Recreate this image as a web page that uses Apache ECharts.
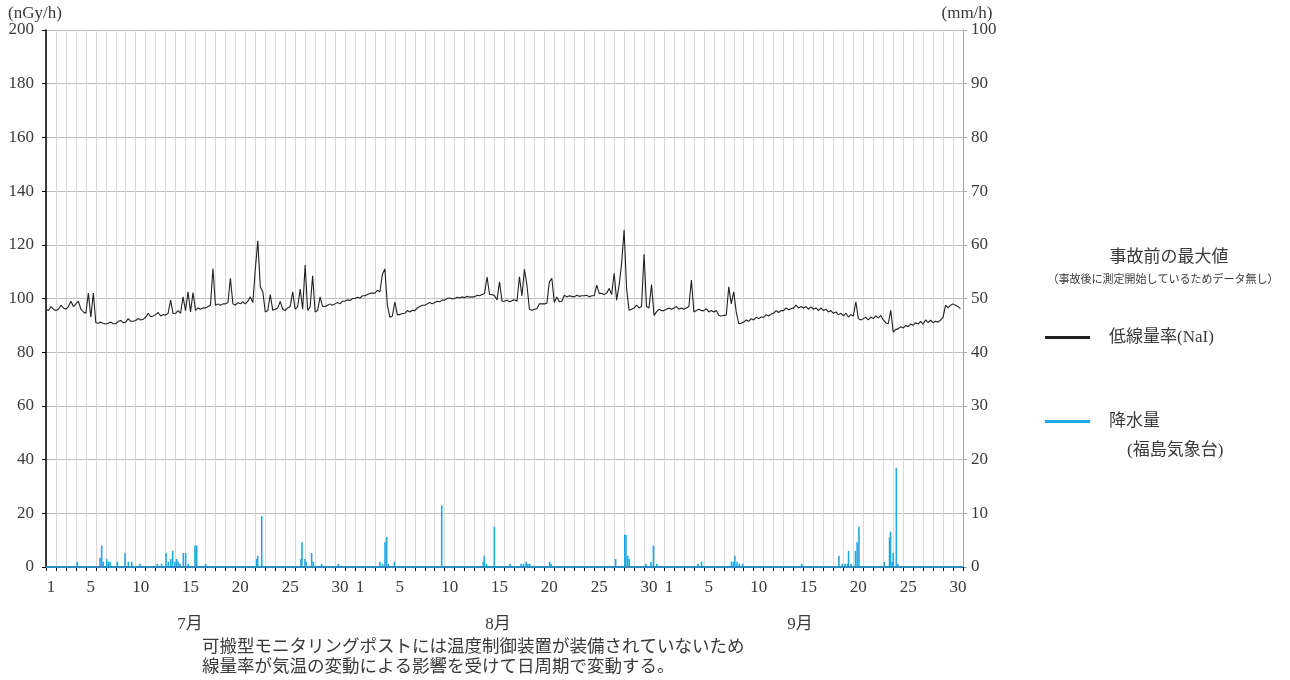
<!DOCTYPE html>
<html>
<head>
<meta charset="utf-8">
<script src="https://cdn.jsdelivr.net/npm/echarts@6.0.0/dist/echarts.min.js"></script>
<style>
html,body{margin:0;padding:0;background:#fff;}
#chart{width:1290px;height:680px;}
</style>
</head>
<body>
<div id="chart"></div>
<script>
// ---- data ----
const monthNames = ['7月', '8月', '9月'];
const monthLengths = [31, 31, 30];
const shownDayLabels = [1, 5, 10, 15, 20, 25, 30];
const leftAxisMax = 200, leftAxisStep = 20;
const rightAxisMax = 100, rightAxisStep = 10;

// 低線量率(NaI) nGy/h, 4 readings per day (0h, 6h, 12h, 18h), from 7/1
const doseRate = [
// July
96.0,95.5,97.0,96.0, 95.5,96.0,97.5,96.5, 96.0,97.0,99.0,97.0, 98.0,99.0,96.0,95.0,
94.5,102.0,93.0,102.0, 91.0,90.8,91.2,90.7, 90.5,90.8,91.2,90.6, 90.6,91.5,91.8,91.0,
91.2,92.5,91.5,91.5, 91.8,92.6,92.0,92.3, 93.0,94.5,93.2,93.5, 94.0,94.8,93.5,94.0,
93.8,94.5,99.4,94.4, 94.5,95.5,94.5,100.6, 95.5,102.5,95.0,102.2, 95.6,96.5,96.0,96.5,
96.5,97.0,97.5,111.2, 97.5,98.0,97.5,98.0, 98.0,98.5,107.5,98.0, 97.5,98.5,98.0,98.7,
98.0,99.0,100.6,98.5, 111.0,121.5,104.4,102.5, 95.0,95.5,101.5,95.6, 96.0,96.5,98.9,96.0,
95.5,96.5,97.0,102.5, 96.0,97.0,103.5,96.0, 112.5,95.6,96.9,108.5, 95.0,95.5,100.6,97.0,
97.0,97.5,98.0,97.5, 98.0,98.5,98.0,99.0, 99.0,99.5,99.2,100.0,
// August
100.0,100.5,100.2,101.0, 101.0,101.5,101.9,102.0, 102.0,103.0,102.5,109.0, 111.0,97.5,93.0,93.5,
98.7,94.0,94.0,94.4, 94.5,95.5,95.0,95.6, 95.5,96.5,97.0,97.5, 97.5,98.0,98.5,98.0,
98.5,99.0,98.8,99.4, 99.4,100.0,100.2,99.8, 100.0,100.5,100.2,100.6, 100.3,100.8,100.5,100.6,
100.6,101.2,101.0,101.5, 101.9,108.0,101.5,101.5, 101.0,99.5,106.2,99.0, 99.0,99.4,98.8,99.2,
99.5,99.0,108.1,101.0, 110.9,105.0,96.0,95.6, 96.0,96.2,98.0,98.0, 98.0,98.2,106.2,107.5,
98.5,100.6,98.8,99.0, 101.2,100.6,101.0,100.8, 100.6,101.2,100.8,101.0, 101.0,101.2,100.6,101.0,
101.0,105.0,101.9,101.9, 101.5,102.0,103.7,101.5, 109.4,99.4,105.0,113.0, 125.6,103.7,95.6,96.0,
96.5,97.5,96.5,97.0, 116.5,97.0,96.5,105.2, 93.7,95.0,96.0,95.5,
// September
95.5,96.0,96.5,96.0, 96.5,97.0,96.0,96.5, 96.0,96.5,97.0,106.9, 95.0,95.5,96.0,95.5,
95.5,96.2,95.0,95.5, 95.0,95.5,93.7,93.5, 93.7,93.8,104.4,98.0, 102.5,95.0,90.6,90.8,
91.2,92.0,91.5,92.5, 92.0,93.0,92.5,93.1, 93.0,94.0,93.5,94.2, 94.5,95.5,94.8,95.5,
95.5,96.5,95.8,96.2, 96.5,97.5,96.5,97.0, 96.5,97.0,96.0,96.9, 96.0,96.5,95.5,96.5,
95.5,96.0,95.0,95.5, 94.5,95.0,94.0,94.5, 93.5,94.5,93.1,94.0, 93.5,98.8,92.5,92.0,
92.5,93.0,92.0,93.1, 92.5,93.5,92.8,93.7, 92.0,91.0,90.6,95.6, 87.5,88.5,88.7,89.5,
89.0,90.0,89.5,90.5, 90.0,91.0,90.5,91.5, 90.5,92.0,91.0,91.9, 91.0,91.5,91.2,92.0,
93.0,97.5,96.5,97.5, 98.0,97.5,97.0,96.2
];

// 降水量(福島気象台) mm/h: time of each rainy hour (days since 7/1 0:00) and amount
const rainDay = [
3.14, 5.42, 5.59, 5.75, 6.09, 6.25, 6.42, 7.16, 7.93, 8.26, 8.6, 9.43, 11.17, 11.6,
12.04, 12.27, 12.51, 12.71, 12.94, 13.11, 13.27, 13.44, 13.78, 14.01, 14.28, 14.95, 15.12, 16.02,
21.14, 21.24, 21.64, 25.58, 25.68, 25.99, 26.09, 26.65, 26.82, 27.66, 29.33,
33.51, 33.78, 34.01, 34.18, 34.35, 34.95, 39.7,
43.87, 43.97, 44.2, 44.98, 46.55, 47.67, 47.91, 48.18, 48.35, 48.53, 50.53, 50.67,
57.15, 58.07, 58.18, 58.36, 58.52, 60.18, 60.7, 60.94, 61.28,
65.41, 65.77, 68.77, 68.97, 69.11, 69.32, 69.56, 69.9, 75.83,
79.55, 79.9, 80.17, 80.41, 80.52, 80.77, 81.21, 81.38, 81.56,
84.11, 84.63, 84.73, 84.9, 85.0, 85.31, 85.48
];
const rainMm = [
1.0, 1.7, 4.0, 1.0, 1.5, 1.0, 1.0, 1.0, 2.6, 1.0, 1.0, 0.6, 0.6, 0.6,
2.6, 1.0, 1.5, 3.0, 1.0, 1.5, 1.0, 0.6, 2.6, 2.6, 0.6, 4.0, 4.0, 0.6,
1.5, 2.1, 9.5, 1.5, 4.6, 1.5, 1.0, 2.6, 1.0, 0.6, 0.6,
1.0, 0.6, 4.6, 5.6, 0.6, 1.0, 11.5,
1.0, 2.1, 0.6, 7.5, 0.6, 0.6, 0.6, 1.0, 0.6, 0.6, 1.0, 0.6,
1.5, 6.0, 6.0, 2.1, 1.5, 0.6, 1.0, 4.0, 0.6,
0.6, 1.0, 1.0, 1.0, 2.1, 1.0, 0.6, 0.6, 0.6,
2.1, 0.6, 0.6, 0.6, 3.0, 0.6, 3.0, 4.6, 7.5,
1.0, 5.5, 6.6, 1.0, 2.6, 18.5, 0.6
];

// ---- build ----
const FONT = '"Liberation Serif", "Noto Sans CJK JP", serif';
const TXT = '#3a3a3a';
const categories = [];
monthLengths.forEach((n, mi) => { for (let d = 1; d <= n; d++) categories.push(mi + '-' + d); });
const totalDays = categories.length;
const readingsPerDay = 4;
const doseData = doseRate.map((v, i) => [i / readingsPerDay, v]);
const rainData = rainDay.map((t, i) => [t, rainMm[i]]);

const chart = echarts.init(document.getElementById('chart'), null, {renderer: 'canvas'});
chart.setOption({
  animation: false,
  backgroundColor: '#fff',
  grid: {left: 46, right: 327, top: 30, bottom: 113, containLabel: false},
  xAxis: [
    {
      type: 'category', data: categories, boundaryGap: true, position: 'bottom',
      axisLine: {show: true, lineStyle: {color: '#000', width: 1}},
      axisTick: {show: true, interval: 0, length: 4, lineStyle: {color: '#000'}},
      axisLabel: {
        interval: (i, v) => shownDayLabels.includes(+v.split('-')[1]),
        formatter: v => v.split('-')[1],
        fontSize: 17, fontFamily: FONT, color: TXT, margin: 12, hideOverlap: false
      },
      splitLine: {show: true, interval: 0, lineStyle: {color: '#d9d9d9', width: 1}}
    },
    {type: 'value', min: 0, max: totalDays, show: false}
  ],
  yAxis: [
    {
      type: 'value', min: 0, max: leftAxisMax, interval: leftAxisStep, position: 'left',
      name: '(nGy/h)', nameLocation: 'end', nameGap: 6,
      nameTextStyle: {fontSize: 17, fontFamily: FONT, color: TXT, padding: [0, 22, 0, 0]},
      axisLine: {show: true, lineStyle: {color: '#000', width: 1.5}},
      axisTick: {show: true, length: 4, lineStyle: {color: '#000'}},
      axisLabel: {fontSize: 17, fontFamily: FONT, color: TXT, margin: 12},
      splitLine: {show: true, lineStyle: {color: '#bfbfbf', width: 1}}
    },
    {
      type: 'value', min: 0, max: rightAxisMax, interval: rightAxisStep, position: 'right',
      name: '(mm/h)', nameLocation: 'end', nameGap: 6,
      nameTextStyle: {fontSize: 17, fontFamily: FONT, color: TXT, padding: [0, 0, 0, 8]},
      axisLine: {show: true, lineStyle: {color: '#a6a6a6', width: 1}},
      axisTick: {show: true, length: 4, lineStyle: {color: '#a6a6a6'}},
      axisLabel: {fontSize: 17, fontFamily: FONT, color: TXT, margin: 8},
      splitLine: {show: false}
    }
  ],
  legend: {
    orient: 'vertical', left: 1040, top: 324, itemWidth: 45, itemHeight: 3, itemGap: 67,
    icon: 'rect', selectedMode: false,
    textStyle: {fontSize: 17, fontFamily: FONT, color: TXT, padding: [0, 0, 0, 14]},
    data: ['低線量率(NaI)', '降水量']
  },
  series: [
    {
      name: '降水量', type: 'bar', xAxisIndex: 1, yAxisIndex: 1, data: rainData,
      barWidth: 1.6, itemStyle: {color: '#1fa9e1'}, color: '#1fa9e1', z: 2,
      markLine: {
        silent: true, symbol: 'none', label: {show: false},
        lineStyle: {color: '#2b8cc4', width: 2, type: 'solid'},
        data: [{yAxis: 0}]
      }
    },
    {
      name: '低線量率(NaI)', type: 'line', xAxisIndex: 1, yAxisIndex: 0, data: doseData,
      showSymbol: false, symbol: 'none', color: '#231f20',
      lineStyle: {color: '#231f20', width: 1.1}, z: 3
    }
  ],
  graphic: [
    {type: 'text', x: 1169, y: 258, style: {text: '事故前の最大値', font: '17px ' + FONT, fill: TXT, align: 'center', verticalAlign: 'middle'}},
    {type: 'text', x: 1163, y: 280, style: {text: '（事故後に測定開始しているためデータ無し）', font: '11px ' + FONT, fill: TXT, align: 'center', verticalAlign: 'middle'}},
    {type: 'text', x: 1127, y: 451, style: {text: '(福島気象台)', font: '17px ' + FONT, fill: TXT, align: 'left', verticalAlign: 'middle'}},
    {type: 'text', x: 190, y: 625, style: {text: monthNames[0], font: '17px ' + FONT, fill: TXT, align: 'center', verticalAlign: 'middle'}},
    {type: 'text', x: 498, y: 625, style: {text: monthNames[1], font: '17px ' + FONT, fill: TXT, align: 'center', verticalAlign: 'middle'}},
    {type: 'text', x: 800, y: 625, style: {text: monthNames[2], font: '17px ' + FONT, fill: TXT, align: 'center', verticalAlign: 'middle'}},
    {type: 'text', x: 202, y: 647, style: {text: '可搬型モニタリングポストには温度制御装置が装備されていないため', font: '17.5px ' + FONT, fill: TXT, align: 'left', verticalAlign: 'middle'}},
    {type: 'text', x: 202, y: 667, style: {text: '線量率が気温の変動による影響を受けて日周期で変動する。', font: '17.5px ' + FONT, fill: TXT, align: 'left', verticalAlign: 'middle'}}
  ]
});
</script>
</body>
</html>
